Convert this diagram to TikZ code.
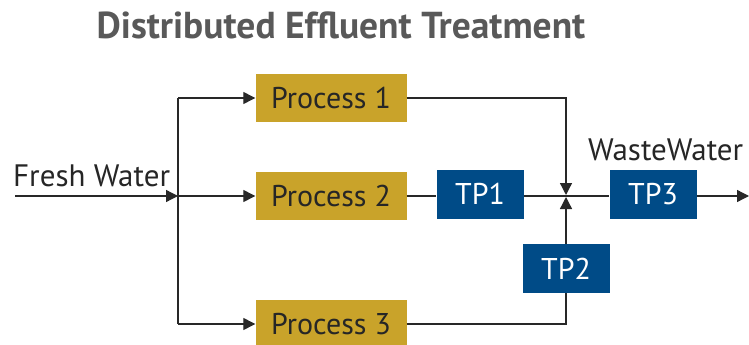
\documentclass[tikz,border=0pt]{standalone}
\usepackage{fontspec}
\setmainfont{PT Sans}
\usetikzlibrary{arrows.meta}
\definecolor{gold}{RGB}{201,163,42}
\definecolor{tpblue}{RGB}{0,75,135}
\definecolor{titlegrey}{RGB}{89,89,89}
\definecolor{linegrey}{RGB}{40,40,40}
\begin{document}
\begin{tikzpicture}[x=1pt,y=-1pt,
  proc/.style={fill=gold, minimum width=151pt, minimum height=48pt, inner sep=0pt, text=black!85, font=\fontsize{30}{30}\selectfont},
  tp/.style={fill=tpblue, minimum width=87pt, minimum height=49pt, inner sep=0pt, text=white, font=\fontsize{30}{30}\selectfont},
  lbl/.style={anchor=base west, inner sep=0pt, text=black!85, font=\fontsize{31}{31}\selectfont},
  conn/.style={draw=linegrey, line width=1.3pt},
  arr/.style={-{Triangle[length=12pt,width=12pt]}}]
\useasboundingbox (0,0) rectangle (749,345);
\node[anchor=base, inner sep=0pt, text=titlegrey, font=\fontsize{37.5}{37.5}\selectfont\bfseries] (title) at (341,38) {Distributed Effluent Treatment};
\node[proc] (p1) at (331,98) {Process 1};
\node[proc] (p2) at (331,196) {Process 2};
\node[proc] (p3) at (331,324) {Process 3};
\node[tp] (tp1) at (480,194) {TP1};
\node[tp] (tp3) at (653,194) {TP3};
\node[tp] (tp2) at (566,268.5) {TP2};
\node[lbl] (fw) at (13,186) {Fresh Water};
\node[lbl] (ww) at (588,160) {WasteWater};
\coordinate (in) at (15,196);
\coordinate (split) at (178,196);
\coordinate (s1) at (178,98);
\coordinate (s3) at (178,324);
\coordinate (join) at (566,196);
\coordinate (jtop) at (566,195);
\coordinate (jbot) at (566,197);
\coordinate (out) at (749,196);
\draw[conn,arr] (in) -- (split);
\draw[conn] (s1) -- (s3);
\draw[conn,arr] (s1) -- (p1.west);
\draw[conn,arr] (split) -- (p2.west);
\draw[conn,arr] (s3) -- (p3.west);
\draw[conn] (p2.east) -- (tp1.west |- join);
\draw[conn] (tp1.east |- join) -- (tp3.west |- join);
\draw[conn,arr] (tp3.east |- join) -- (out);
\draw[conn,arr] (p1.east) -| (jtop);
\draw[conn] (p3.east) -| (tp2.south);
\draw[conn,arr] (tp2.north) -- (jbot);
\end{tikzpicture}
\end{document}
